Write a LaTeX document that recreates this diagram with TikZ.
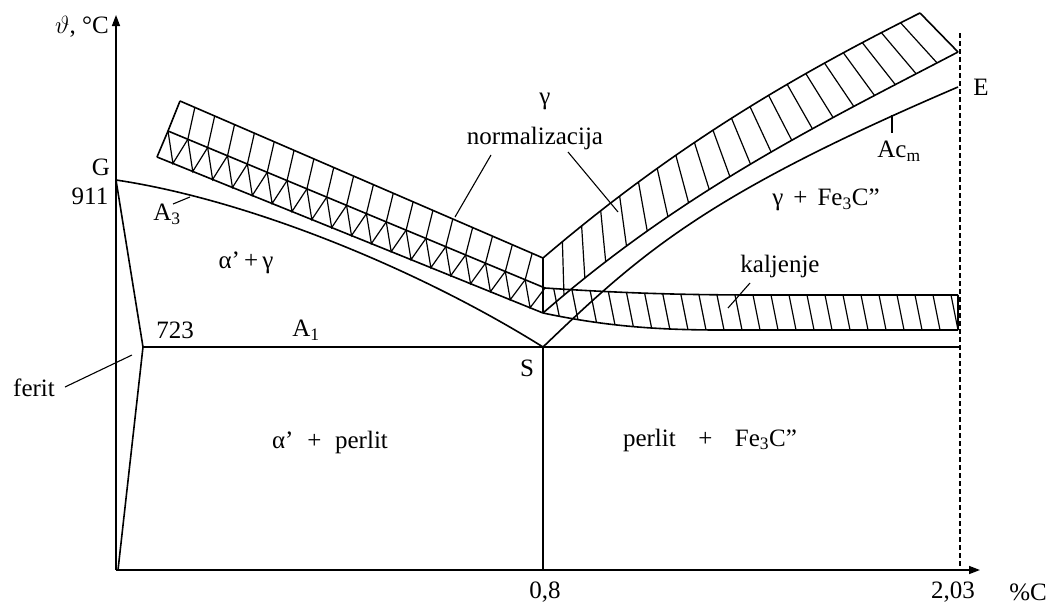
\documentclass[tikz,border=0pt]{standalone}
\usepackage{fontspec}
\setmainfont{Liberation Serif}
\usetikzlibrary{arrows.meta,calc}
\begin{document}
\begin{tikzpicture}[x=1pt,y=-1pt,
  line/.style={line width=1.6pt, line join=round},
  hatch/.style={line width=1.2pt},
  leader/.style={line width=1.1pt},
  lbl/.style={font=\fontsize{25}{28}\selectfont, inner sep=0pt},
  axis/.style={line width=1.4pt, -{Triangle[length=11pt,width=8pt]}}]
\useasboundingbox (0,0) rectangle (1056,605);
% key points
\coordinate (O) at (116,570);
\coordinate (Ytop) at (116,15);
\coordinate (Xend) at (980,570);
\coordinate (G) at (116,180);
\coordinate (P723) at (143,347);
\coordinate (Fb) at (118,570);
\coordinate (S) at (543,347);
\coordinate (Sb) at (543,570);
\coordinate (A1e) at (960,347);
\coordinate (E) at (958,87);
\coordinate (Dt) at (960,33);
\coordinate (Db) at (960,570);
% left band
\coordinate (LT1) at (180,101);
\coordinate (LM1) at (168,131);
\coordinate (LB1) at (157,157);
\coordinate (V1) at (543,258);
\coordinate (V2) at (545,288);
\coordinate (V3) at (543,313);
% right band
\coordinate (NT) at (920,13);
\coordinate (NB) at (958,52);
% kaljenje band
\coordinate (KT) at (958,295);
\coordinate (KB) at (958,330);

% axes
\draw[axis] (O) -- (Ytop);
\draw[axis] (O) -- (Xend);
\draw[line width=1.3pt, dash pattern=on 5pt off 3pt] (Dt) -- (Db);

% phase lines
\draw[line] (G) -- (P723) -- (Fb);
\draw[line] (P723) -- (A1e);
\draw[line] (S) -- (Sb);
\draw[line] (G) .. controls (250,200) and (420,270) .. (S);
\draw[line] (S) .. controls (643,251) and (708,194) .. (E);

% left band outline
\draw[line] (LT1) -- (V1);
\draw[line] (LM1) -- (V2);
\draw[line] (LB1) -- (V3);
\draw[line] (LT1) -- (LM1) -- (LB1);
\draw[line] (V1) -- (V3);
% left band upper hatch
\foreach \i in {1,...,18}{
  \pgfmathsetmacro\xm{168+\i/19*377}
  \pgfmathsetmacro\ym{131+(\xm-168)/377*157}
  \pgfmathsetmacro\xt{\xm+7}
  \pgfmathsetmacro\yt{101+(\xt-180)/363*157}
  \draw[hatch] (\xt,\yt) -- (\xm,\ym);
}
% left band lower zigzag
\foreach \i in {0,...,18}{
  \pgfmathsetmacro\xa{168+\i/19*377}
  \pgfmathsetmacro\ya{131+(\xa-168)/377*157}
  \pgfmathsetmacro\xc{168+(\i+1)/19*377}
  \pgfmathsetmacro\yc{131+(\xc-168)/377*157}
  \pgfmathsetmacro\xb{168+(\i+0.5)/19*377-5}
  \pgfmathsetmacro\yb{157+(\xb-157)/386*156}
  \draw[hatch] (\xa,\ya) -- (\xb,\yb) -- (\xc,\yc);
}

% right normalization band
\draw[line] (V1) .. controls (673,147) and (790,78) .. (NT);
\draw[line] (V3) .. controls (683,191) and (818,125) .. (NB);
\draw[line] (NT) -- (NB);
\foreach \i in {1,...,19}{
  \pgfmathsetmacro\tt{\i/20}
  \path (V1) .. controls (673,147) and (790,78) .. (NT) coordinate[pos=\tt] (nt\i);
  \path (V3) .. controls (683,191) and (818,125) .. (NB) coordinate[pos=\tt] (nb\i);
  \draw[hatch] (nt\i) -- (nb\i);
}

% kaljenje band
\draw[line] (V2) .. controls (620,293) and (680,295) .. (760,295) -- (KT);
\draw[line] (V3) .. controls (600,325) and (650,330) .. (720,330) -- (KB);
\draw[line] (KT) -- (KB);
\begin{scope}
  \clip (V2) .. controls (620,293) and (680,295) .. (760,295) -- (KT) -- (KB)
        -- (720,330) .. controls (650,330) and (600,325) .. (V3) -- cycle;
  \foreach \x in {552,570,...,960}{
    \draw[hatch] (\x,280) -- (\x+12,340);
  }
\end{scope}

% labels
\node[lbl] (ylab) at (82,27) {$\vartheta$, °C};
\node[lbl] (Glab) at (101,167) {G};
\node[lbl] (t911) at (90,196) {911};
\node[lbl] (A3lab) at (167,214) {A\textsubscript{3}};
\node[lbl] (ag) at (246,263) {α'\,+\,γ};
\node[lbl] (t723) at (175,330) {723};
\node[lbl] (A1lab) at (306,330) {A\textsubscript{1}};
\node[lbl] (ferit) at (34,388) {ferit};
\node[lbl] (Slab) at (527,368) {S};
\node[lbl] (gam) at (545,101) {γ};
\node[lbl] (norm) at (535,138) {normalizacija};
\node[lbl] (kal) at (780,266) {kaljenje};
\node[lbl] (Acm) at (899,151) {Ac\textsubscript{m}};
\node[lbl] (Elab) at (981,87) {E};
\node[lbl] (gfe) at (826,200) {γ\hspace{0.4em}+\hspace{0.4em}Fe\textsubscript{3}C''};
\node[lbl] (ap) at (330,442) {α'\hspace{0.55em}+\hspace{0.55em}perlit};
\node[lbl] (pf) at (710,440) {perlit\hspace{0.9em}+\hspace{0.9em}Fe\textsubscript{3}C''};
\node[lbl] (x08) at (545,592) {0,8};
\node[lbl] (x203) at (953,592) {2,03};
\node[lbl] (pc) at (1028,592) {\%C};

% leaders
\coordinate (a3s) at (173,204); \coordinate (a3e) at (190,197);
\draw[leader] (a3s) -- (a3e);
\coordinate (nl1) at (491,155); \coordinate (nl2) at (455,217);
\draw[leader] (nl1) -- (nl2);
\coordinate (nr1) at (568,152); \coordinate (nr2) at (618,212);
\draw[leader] (nr1) -- (nr2);
\coordinate (kl1) at (750,283); \coordinate (kl2) at (728,308);
\draw[leader] (kl1) -- (kl2);
\coordinate (ac1) at (892,115); \coordinate (ac2) at (892,133);
\draw[leader] (ac1) -- (ac2);
\coordinate (fl1) at (65,387); \coordinate (fl2) at (132,355);
\draw[leader] (fl1) -- (fl2);
\end{tikzpicture}
\end{document}
